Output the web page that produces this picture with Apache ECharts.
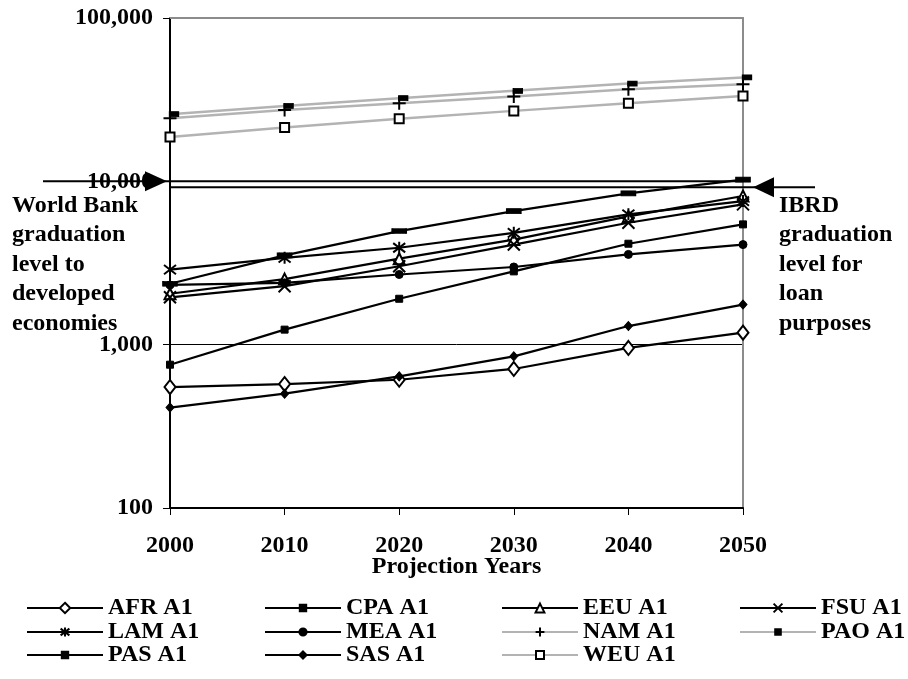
<!DOCTYPE html>
<html>
<head>
<meta charset="utf-8">
<script src="https://cdn.jsdelivr.net/npm/echarts@6/dist/echarts.min.js"></script>
<style>
  html, body { margin: 0; padding: 0; background: #fff; }
  #chart { width: 908px; height: 679px; }
</style>
</head>
<body>
<div id="chart"></div>
<script>
// GDP per capita by region, A1 scenario (log scale)
const years = ['2000', '2010', '2020', '2030', '2040', '2050'];

const afr = [550, 574, 610, 710, 955, 1185];
const cpa = [754, 1236, 1910, 2810, 4150, 5450];
const eeu = [2050, 2520, 3360, 4400, 6100, 8130];
const fsu = [1950, 2280, 3020, 4100, 5580, 7230];
const lam = [2880, 3400, 3920, 4840, 6280, 7570];
const mea = [2320, 2390, 2690, 2990, 3570, 4100];
const nam = [24350, 27370, 30100, 33100, 36650, 39350];
const pao = [25770, 28970, 32300, 35800, 39700, 43250];
const pas = [2360, 3520, 4960, 6570, 8440, 10250];
const sas = [412, 501, 639, 848, 1300, 1760];
const weu = [18700, 21340, 24150, 27000, 30100, 33350];

const yTickValues = [100, 1000, 10000, 100000];

// reference income levels shown as arrows
const worldBankLevel = 10000;
const ibrdLevel = 9200;

const xAxisTitle = 'Projection Years';
const worldBankNote = 'World Bank\ngraduation\nlevel to\ndeveloped\neconomies';
const ibrdNote = 'IBRD\ngraduation\nlevel for\nloan\npurposes';

const FONT = '"Liberation Serif", "Times New Roman", serif';
const FONT_SIZE = 24;
const BLACK = '#000000';
const GREY = '#b3b3b3';
const FRAME = '#8c8c8c';

const SYM_X = 'path://M0,0L10,10M10,0L0,10';
const SYM_STAR = 'path://M0,0L10,10M10,0L0,10M5,-1.5L5,11.5';
const SYM_PLUS = 'path://M0,5L10,5M5,0L5,10';

// marker styling per series; legendSize is the legend icon box height
const seriesDefs = [
  { name: 'AFR A1', data: afr, line: BLACK, symbol: 'diamond', size: [11, 14], fill: '#fff', border: 2, legendSize: 13 },
  { name: 'CPA A1', data: cpa, line: BLACK, symbol: 'rect', size: 7, fill: BLACK, border: 1, legendSize: 8 },
  { name: 'EEU A1', data: eeu, line: BLACK, symbol: 'triangle', size: 11, fill: '#fff', border: 2, legendSize: 11 },
  { name: 'FSU A1', data: fsu, line: BLACK, symbol: SYM_X, size: 12, fill: 'none', border: 2, legendSize: 11 },
  { name: 'LAM A1', data: lam, line: BLACK, symbol: SYM_STAR, size: 12, fill: 'none', border: 2, legendSize: 11 },
  { name: 'MEA A1', data: mea, line: BLACK, symbol: 'circle', size: 8, fill: BLACK, border: 1, legendSize: 9 },
  { name: 'NAM A1', data: nam, line: GREY, symbol: SYM_PLUS, size: 13, fill: 'none', border: 2, legendSize: 11 },
  { name: 'PAO A1', data: pao, line: GREY, symbol: 'rect', size: [9, 5], fill: BLACK, border: 1, offset: [4, 0], legendSize: 7 },
  { name: 'PAS A1', data: pas, line: BLACK, symbol: 'rect', size: [14, 5], fill: BLACK, border: 1, legendSize: 8 },
  { name: 'SAS A1', data: sas, line: BLACK, symbol: 'diamond', size: [8, 9], fill: BLACK, border: 1, legendSize: 9 },
  { name: 'WEU A1', data: weu, line: GREY, symbol: 'rect', size: 9, fill: '#fff', border: 2, legendSize: 10 }
];

const series = seriesDefs.map(d => ({
  name: d.name,
  type: 'line',
  data: d.data,
  symbol: d.symbol,
  symbolSize: d.size,
  symbolOffset: d.offset || [0, 0],
  showAllSymbol: true,
  lineStyle: { color: d.line, width: d.line === GREY ? 2.5 : 2.2 },
  itemStyle: { color: d.fill, borderColor: BLACK, borderWidth: d.border, opacity: 1 },
  emphasis: { disabled: true },
  z: 3
}));

// legend grid: 4 columns, 3 rows
const legendRows = [
  ['AFR A1', 'CPA A1', 'EEU A1', 'FSU A1'],
  ['LAM A1', 'MEA A1', 'NAM A1', 'PAO A1'],
  ['PAS A1', 'SAS A1', 'WEU A1']
];
const legendColumnLeft = [26, 264, 501, 739];
const legendRowTop = [596, 620, 643];

const legends = [];
legendRows.forEach((row, r) => {
  row.forEach((name, c) => {
    const def = seriesDefs.find(d => d.name === name);
    legends.push({
      data: [name],
      left: legendColumnLeft[c],
      top: legendRowTop[r],
      padding: 0,
      itemWidth: 76,
      itemHeight: def.legendSize,
      itemGap: 0,
      selectedMode: false,
      textStyle: { fontFamily: FONT, fontWeight: 'bold', fontSize: FONT_SIZE, color: BLACK }
    });
  });
});

const labelFont = { fontFamily: FONT, fontWeight: 'bold', fontSize: FONT_SIZE, color: BLACK };

const chart = echarts.init(document.getElementById('chart'), null, { renderer: 'canvas' });

chart.setOption({
  animation: false,
  backgroundColor: '#fff',
  grid: { left: 170, right: 165, top: 18, bottom: 171, containLabel: false },
  legend: legends,
  xAxis: [
    {
      type: 'category',
      data: years,
      boundaryGap: false,
      position: 'bottom',
      name: xAxisTitle,
      nameLocation: 'middle',
      nameGap: 47,
      nameMoveOverlap: false,
      nameTextStyle: labelFont,
      axisLine: { lineStyle: { color: BLACK, width: 2 } },
      axisTick: { show: true, length: 7, inside: false, lineStyle: { color: BLACK, width: 1 } },
      axisLabel: Object.assign({ margin: 26, interval: 0 }, labelFont),
      splitLine: { show: false }
    },
    {
      type: 'category',
      data: years,
      boundaryGap: false,
      position: 'top',
      axisLine: { lineStyle: { color: FRAME, width: 2 } },
      axisTick: { show: false },
      axisLabel: { show: false },
      splitLine: { show: false }
    }
  ],
  yAxis: [
    {
      type: 'log',
      logBase: 10,
      min: yTickValues[0],
      max: yTickValues[yTickValues.length - 1],
      position: 'left',
      axisLine: { show: true, lineStyle: { color: BLACK, width: 2 } },
      axisTick: { show: true, length: 7, inside: false, lineStyle: { color: BLACK, width: 1 } },
      axisLabel: Object.assign({
        margin: 17,
        formatter: v => Math.round(v).toLocaleString('en-US')
      }, labelFont),
      splitLine: { show: true, lineStyle: { color: BLACK, width: 1 } }
    },
    {
      type: 'log',
      logBase: 10,
      min: yTickValues[0],
      max: yTickValues[yTickValues.length - 1],
      position: 'right',
      axisLine: { show: true, lineStyle: { color: FRAME, width: 2 } },
      axisTick: { show: false },
      axisLabel: { show: false },
      splitLine: { show: false }
    }
  ],
  series: series
});

// threshold arrows and their notes, placed through the axes
const yWB = chart.convertToPixel({ yAxisIndex: 0 }, worldBankLevel);
const yIB = chart.convertToPixel({ yAxisIndex: 0 }, ibrdLevel);
const xFirst = chart.convertToPixel({ xAxisIndex: 0 }, years[0]);
const xLast = chart.convertToPixel({ xAxisIndex: 0 }, years[years.length - 1]);

const noteStyle = { fontFamily: FONT, fontWeight: 'bold', fontSize: FONT_SIZE, fill: BLACK, lineHeight: 29.5 };

chart.setOption({
  graphic: [
    { type: 'line', z: 50, shape: { x1: 43, y1: yWB, x2: xLast, y2: yWB }, style: { stroke: BLACK, lineWidth: 2 } },
    { type: 'polygon', z: 51, shape: { points: [[145, yWB - 10], [167, yWB], [145, yWB + 10]] }, style: { fill: BLACK } },
    { type: 'line', z: 50, shape: { x1: xFirst, y1: yIB, x2: 815, y2: yIB }, style: { stroke: BLACK, lineWidth: 2 } },
    { type: 'polygon', z: 51, shape: { points: [[753, yIB], [774, yIB - 10], [774, yIB + 10]] }, style: { fill: BLACK } },
    { type: 'text', z: 52, left: 12, top: 191, style: Object.assign({ text: worldBankNote }, noteStyle) },
    { type: 'text', z: 52, left: 779, top: 191, style: Object.assign({ text: ibrdNote }, noteStyle) }
  ]
});
</script>
</body>
</html>
